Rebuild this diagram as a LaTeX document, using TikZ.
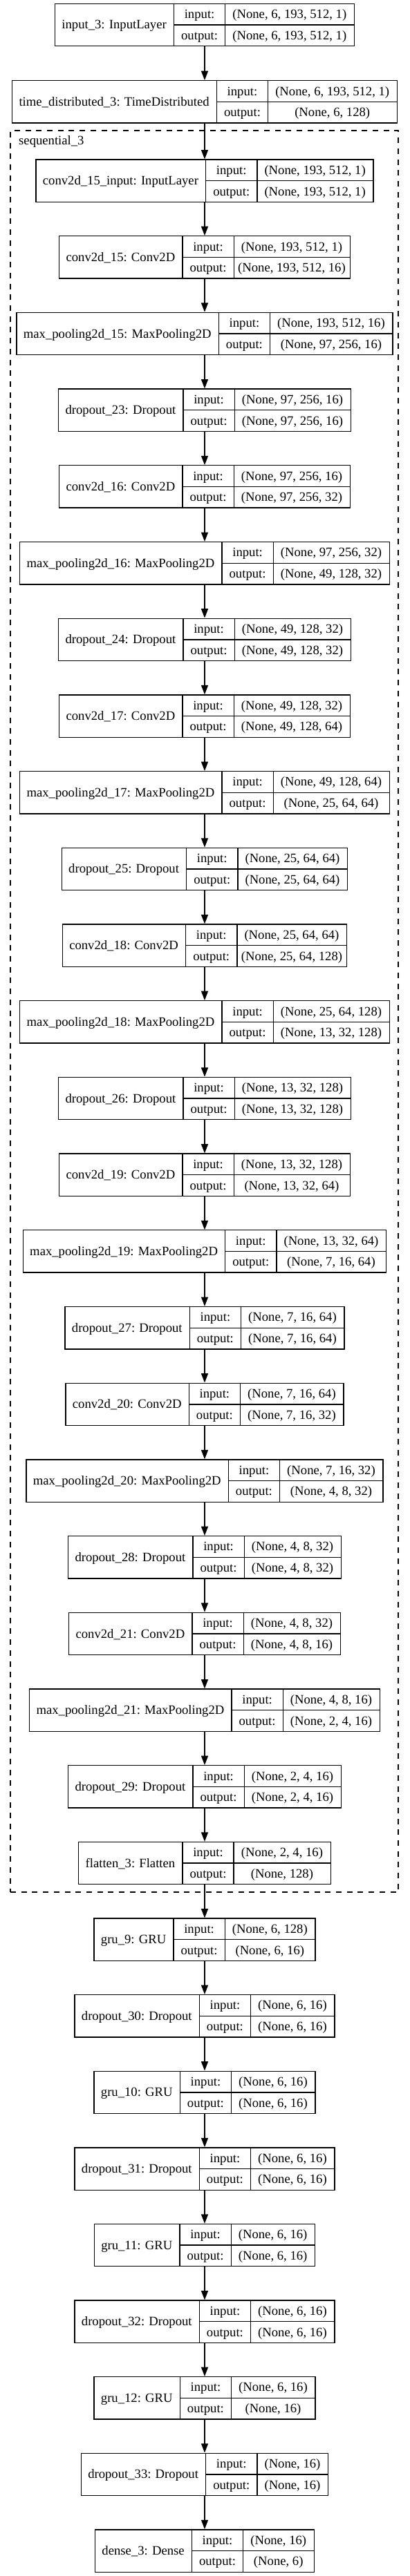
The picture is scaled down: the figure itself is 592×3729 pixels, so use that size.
\documentclass[tikz,border=0pt]{standalone}
\usepackage{fontspec}
\setmainfont{Liberation Serif}
\usetikzlibrary{arrows.meta}
\font\LayerPrim="Liberation Serif" at 18.67pt
\newlength\LwA \newlength\LwB \newlength\LwC \newlength\Ltmp
\newcommand\kerasLayer[5]{%
  \setbox0=\hbox{\LayerPrim #3}\LwA=\wd0 \advance\LwA by 21.33pt
  \setbox0=\hbox{\LayerPrim output:}\LwB=\wd0 \advance\LwB by 21.33pt
  \setbox0=\hbox{\LayerPrim #4}\LwC=\wd0
  \setbox0=\hbox{\LayerPrim #5}\Ltmp=\wd0
  \ifdim\Ltmp>\LwC \LwC=\Ltmp \fi
  \advance\LwC by 21.33pt
  \pgfmathsetmacro\Wt{\LwA+\LwB+\LwC}%
  \pgfmathsetmacro\Cy{#2+30.67}%
  \node[lbox, minimum width=\Wt pt] (#1) at (296,\Cy) {};
  \draw[cellline] ([xshift=\LwA]#1.north west) -- ([xshift=\LwA]#1.south west);
  \draw[cellline] ([xshift=\LwA+\LwB]#1.north west) -- ([xshift=\LwA+\LwB]#1.south west);
  \draw[cellline] ([xshift=\LwA]#1.west) -- (#1.east);
  \node[txt] (#1-name) at ([xshift=0.5\LwA, yshift=-6pt]#1.west) {#3};
  \node[txt] (#1-il) at ([xshift=\LwA+0.5\LwB, yshift=9.33pt]#1.west) {input:};
  \node[txt] (#1-ol) at ([xshift=\LwA+0.5\LwB, yshift=-21.33pt]#1.west) {output:};
  \node[txt] (#1-iv) at ([xshift=\LwA+\LwB+0.5\LwC, yshift=9.33pt]#1.west) {#4};
  \node[txt] (#1-ov) at ([xshift=\LwA+\LwB+0.5\LwC, yshift=-21.33pt]#1.west) {#5};
}
\begin{document}
\begin{tikzpicture}[x=1pt,y=-1pt,
  every node/.style={font=\LayerPrim},
  lbox/.style={draw=black, line width=1.33pt, rectangle, inner sep=0pt, minimum height=61.33pt},
  cellline/.style={draw=black, line width=1.33pt},
  txt/.style={anchor=base, inner sep=0pt, text=black, font=\LayerPrim},
  conn/.style={draw=black, line width=1.33pt, -{Triangle[length=13.33pt,width=10pt]}},
  cluster/.style={draw=black, line width=1.33pt, dash pattern=on 8pt off 7.7pt, rectangle, inner sep=0pt}]
\useasboundingbox (0,0) rectangle (592,3729);
\node[cluster, minimum width=561pt, minimum height=2550pt] (seq) at (295.5,1464) {};
\node[txt, anchor=base west] (seqlabel) at (27,209) {sequential\_3};
\kerasLayer{l0}{5.3}{input\_3: InputLayer}{(None, 6, 193, 512, 1)}{(None, 6, 193, 512, 1)}
\kerasLayer{l1}{116.7}{time\_distributed\_3: TimeDistributed}{(None, 6, 193, 512, 1)}{(None, 6, 128)}
\kerasLayer{s0}{231.0}{conv2d\_15\_input: InputLayer}{(None, 193, 512, 1)}{(None, 193, 512, 1)}
\kerasLayer{s1}{341.7}{conv2d\_15: Conv2D}{(None, 193, 512, 1)}{(None, 193, 512, 16)}
\kerasLayer{s2}{452.4}{max\_pooling2d\_15: MaxPooling2D}{(None, 193, 512, 16)}{(None, 97, 256, 16)}
\kerasLayer{s3}{563.1}{dropout\_23: Dropout}{(None, 97, 256, 16)}{(None, 97, 256, 16)}
\kerasLayer{s4}{673.8}{conv2d\_16: Conv2D}{(None, 97, 256, 16)}{(None, 97, 256, 32)}
\kerasLayer{s5}{784.5}{max\_pooling2d\_16: MaxPooling2D}{(None, 97, 256, 32)}{(None, 49, 128, 32)}
\kerasLayer{s6}{895.2}{dropout\_24: Dropout}{(None, 49, 128, 32)}{(None, 49, 128, 32)}
\kerasLayer{s7}{1005.9}{conv2d\_17: Conv2D}{(None, 49, 128, 32)}{(None, 49, 128, 64)}
\kerasLayer{s8}{1116.6}{max\_pooling2d\_17: MaxPooling2D}{(None, 49, 128, 64)}{(None, 25, 64, 64)}
\kerasLayer{s9}{1227.3}{dropout\_25: Dropout}{(None, 25, 64, 64)}{(None, 25, 64, 64)}
\kerasLayer{s10}{1338.0}{conv2d\_18: Conv2D}{(None, 25, 64, 64)}{(None, 25, 64, 128)}
\kerasLayer{s11}{1448.7}{max\_pooling2d\_18: MaxPooling2D}{(None, 25, 64, 128)}{(None, 13, 32, 128)}
\kerasLayer{s12}{1559.4}{dropout\_26: Dropout}{(None, 13, 32, 128)}{(None, 13, 32, 128)}
\kerasLayer{s13}{1670.1}{conv2d\_19: Conv2D}{(None, 13, 32, 128)}{(None, 13, 32, 64)}
\kerasLayer{s14}{1780.8}{max\_pooling2d\_19: MaxPooling2D}{(None, 13, 32, 64)}{(None, 7, 16, 64)}
\kerasLayer{s15}{1891.5}{dropout\_27: Dropout}{(None, 7, 16, 64)}{(None, 7, 16, 64)}
\kerasLayer{s16}{2002.2}{conv2d\_20: Conv2D}{(None, 7, 16, 64)}{(None, 7, 16, 32)}
\kerasLayer{s17}{2112.9}{max\_pooling2d\_20: MaxPooling2D}{(None, 7, 16, 32)}{(None, 4, 8, 32)}
\kerasLayer{s18}{2223.6}{dropout\_28: Dropout}{(None, 4, 8, 32)}{(None, 4, 8, 32)}
\kerasLayer{s19}{2334.3}{conv2d\_21: Conv2D}{(None, 4, 8, 32)}{(None, 4, 8, 16)}
\kerasLayer{s20}{2445.0}{max\_pooling2d\_21: MaxPooling2D}{(None, 4, 8, 16)}{(None, 2, 4, 16)}
\kerasLayer{s21}{2555.7}{dropout\_29: Dropout}{(None, 2, 4, 16)}{(None, 2, 4, 16)}
\kerasLayer{s22}{2666.4}{flatten\_3: Flatten}{(None, 2, 4, 16)}{(None, 128)}
\kerasLayer{g0}{2777.0}{gru\_9: GRU}{(None, 6, 128)}{(None, 6, 16)}
\kerasLayer{g1}{2887.6}{dropout\_30: Dropout}{(None, 6, 16)}{(None, 6, 16)}
\kerasLayer{g2}{2998.2}{gru\_10: GRU}{(None, 6, 16)}{(None, 6, 16)}
\kerasLayer{g3}{3108.8}{dropout\_31: Dropout}{(None, 6, 16)}{(None, 6, 16)}
\kerasLayer{g4}{3219.4}{gru\_11: GRU}{(None, 6, 16)}{(None, 6, 16)}
\kerasLayer{g5}{3330.0}{dropout\_32: Dropout}{(None, 6, 16)}{(None, 6, 16)}
\kerasLayer{g6}{3440.6}{gru\_12: GRU}{(None, 6, 16)}{(None, 16)}
\kerasLayer{g7}{3551.2}{dropout\_33: Dropout}{(None, 16)}{(None, 16)}
\kerasLayer{g8}{3661.8}{dense\_3: Dense}{(None, 16)}{(None, 6)}
\draw[conn] (l0) -- (l1);
\draw[conn] (l1) -- (s0);
\foreach \a/\b in {s0/s1,s1/s2,s2/s3,s3/s4,s4/s5,s5/s6,s6/s7,s7/s8,s8/s9,s9/s10,s10/s11,s11/s12,s12/s13,s13/s14,s14/s15,s15/s16,s16/s17,s17/s18,s18/s19,s19/s20,s20/s21,s21/s22}
  \draw[conn] (\a) -- (\b);
\draw[conn] (s22) -- (g0);
\foreach \a/\b in {g0/g1,g1/g2,g2/g3,g3/g4,g4/g5,g5/g6,g6/g7,g7/g8}
  \draw[conn] (\a) -- (\b);
\end{tikzpicture}
\end{document}
